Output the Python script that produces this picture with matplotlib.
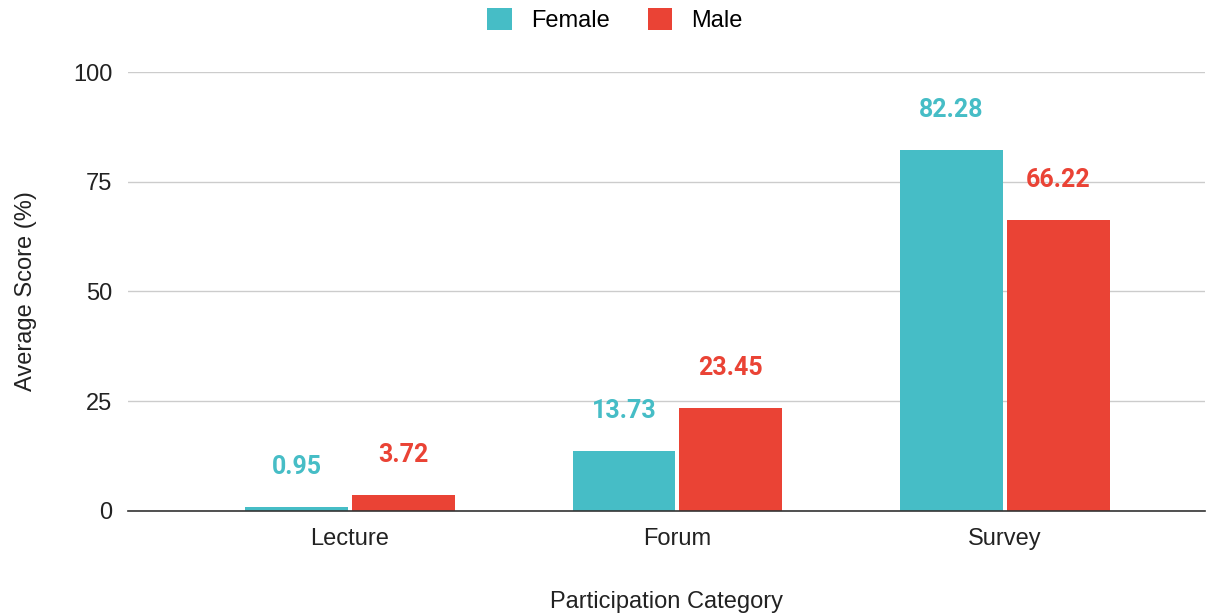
import matplotlib
matplotlib.use("Agg")
import matplotlib.pyplot as plt
import numpy as np

categories = ["Lecture", "Forum", "Survey"]
female = [0.95, 13.73, 82.28]
male = [3.72, 23.45, 66.22]
yticks = [0, 25, 50, 75, 100]

teal = "#46BDC6"
red = "#EA4335"

plt.rcParams['font.family'] = ['Liberation Sans', 'DejaVu Sans']

fig = plt.figure(figsize=(12.18, 6.14), dpi=100)
ax = fig.add_axes([0.105, 0.1678, 0.884, 0.7149])

x = np.arange(len(categories))
w = 0.314
gap = 0.006
b1 = ax.bar(x - w / 2 - gap, female, w, color=teal, label="Female", zorder=3)
b2 = ax.bar(x + w / 2 + gap, male, w, color=red, label="Male", zorder=3)

for bars, vals, c in [(b1, female, teal), (b2, male, red)]:
    for b, v in zip(bars, vals):
        ax.annotate(f"{v:.2f}", (b.get_x() + b.get_width() / 2, v),
                    xytext=(0, 40), textcoords="offset pixels",
                    ha="center", va="center", color=c, fontsize=18,
                    fontweight="bold", family=["Roboto", "DejaVu Sans"], zorder=4)

ax.set_xlim(-0.678, 2.61)
ax.set_ylim(0, 100)
ax.set_yticks(yticks)
ax.set_xticks(x)
ax.set_xticklabels(categories)
ax.tick_params(axis="both", length=0, labelsize=17, colors="#222222")
ax.tick_params(axis="y", pad=11)
ax.tick_params(axis="x", pad=12)
ax.grid(axis="y", color="#cccccc", linewidth=1, zorder=0)
for s in ["top", "right", "left"]:
    ax.spines[s].set_visible(False)
ax.spines["bottom"].set_color("#333333")
ax.spines["bottom"].set_linewidth(1.2)
ax.spines["bottom"].set_zorder(5)

ax.set_ylabel("Average Score (%)", fontsize=17, color="#222222", labelpad=26)
ax.set_xlabel("Participation Category", fontsize=17, color="#222222", labelpad=30)

fig.legend(handles=[b1, b2], labels=["Female", "Male"], loc="center",
           bbox_to_anchor=(0.505, 0.968), ncol=2, frameon=False, fontsize=17,
           handlelength=1.05, handleheight=1.05, columnspacing=1.6, handletextpad=0.8,
           borderpad=0)

fig.savefig("out.png", dpi=100)
